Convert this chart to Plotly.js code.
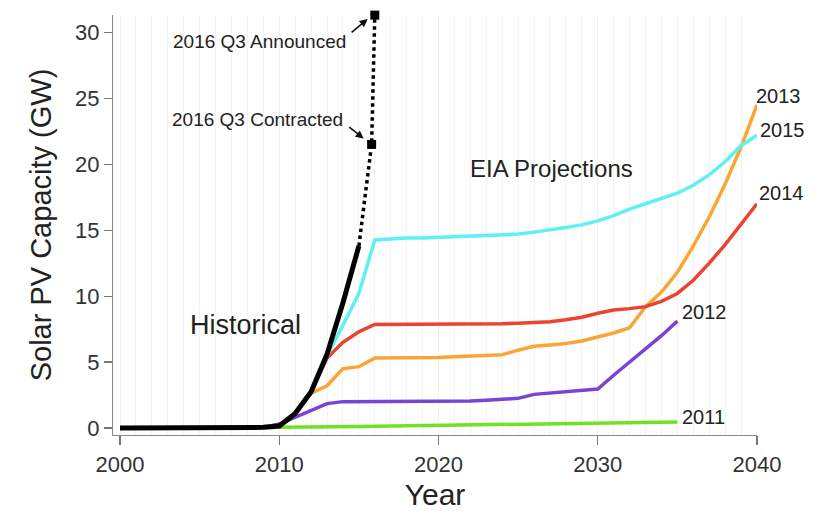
<!DOCTYPE html>
<html>
<head>
<meta charset="utf-8">
<script src="https://cdn.plot.ly/plotly-3.0.1.min.js"></script>
<style>html,body{margin:0;padding:0;background:#fff}#chart{width:813px;height:511px}</style>
</head>
<body>
<div id="chart"></div>
<script>
// Historical installed capacity
var histYears = [2000,2001,2002,2003,2004,2005,2006,2007,2008,2009,2010,2011,2012,2013,2014,2015];
var histVals  = [0,0,0,0,0,0,0,0,0.02,0.05,0.15,1.1,2.75,5.6,9.5,13.8];

// Pipeline (dotted) : last historical -> contracted -> announced
var pipeYears = [2015, 2015.8, 2016.0];
var pipeVals  = [13.8, 21.5, 31.3];
var pipeMarkYears = [2015.8, 2016.0];
var pipeMarkVals  = [21.5, 31.3];

// EIA projections
var yrs2015 = [2008,2009,2010,2011,2012,2013,2014,2015,2016,2017,2018,2019,2020,2021,2022,2023,2024,2025,2026,2027,2028,2029,2030,2031,2032,2033,2034,2035,2036,2037,2038,2039,2040];
var eia2015 = [0.02,0.05,0.15,1.1,2.75,5.5,7.8,10.2,14.25,14.35,14.4,14.4,14.45,14.45,14.5,14.55,14.6,14.7,14.85,15.0,15.2,15.4,15.7,16.1,16.6,17.0,17.4,17.8,18.4,19.2,20.2,21.4,22.2];

var yrs2014 = [2008,2009,2010,2011,2012,2013,2014,2015,2016,2017,2018,2019,2020,2021,2022,2023,2024,2025,2026,2027,2028,2029,2030,2031,2032,2033,2034,2035,2036,2037,2038,2039,2040];
var eia2014 = [0.02,0.05,0.15,1.1,2.7,5.3,6.5,7.3,7.85,7.85,7.85,7.85,7.85,7.85,7.85,7.88,7.9,7.95,8.0,8.05,8.2,8.4,8.7,8.95,9.05,9.2,9.6,10.2,11.2,12.5,13.9,15.4,17.0];

var yrs2013 = [2008,2009,2010,2011,2012,2013,2014,2015,2016,2017,2018,2019,2020,2021,2022,2023,2024,2025,2026,2027,2028,2029,2030,2031,2032,2033,2034,2035,2036,2037,2038,2039,2040];
var eia2013 = [0.02,0.05,0.15,1.1,2.65,3.2,4.5,4.65,5.3,5.3,5.3,5.3,5.35,5.4,5.45,5.5,5.55,5.9,6.2,6.3,6.4,6.6,6.9,7.2,7.6,9.2,10.3,11.8,13.8,16.0,18.5,21.3,24.5];

var yrs2012 = [2008,2009,2010,2011,2012,2013,2014,2015,2016,2017,2018,2019,2020,2021,2022,2023,2024,2025,2026,2027,2028,2029,2030,2031,2032,2033,2034,2035];
var eia2012 = [0.02,0.05,0.3,0.8,1.3,1.85,2.0,2.0,2.0,2.0,2.0,2.0,2.0,2.0,2.05,2.1,2.15,2.25,2.55,2.65,2.75,2.8,2.95,4.0,5.0,6.0,7.0,8.1];

var yrs2011 = [2009,2010,2015,2020,2025,2030,2035];
var eia2011 = [0.02,0.05,0.12,0.2,0.28,0.36,0.45];

var tickVals = [2000,2010,2020,2030,2040];
var yTickVals = [0,5,10,15,20,25,30];

var colCyan='#5FF0F2', colRed='#EC4330', colOrange='#FAA535', colPurple='#7844D8', colGreen='#6CE41F';

function line(x,y,c,w){return {x:x,y:y,type:'scatter',mode:'lines',line:{color:c,width:w},hoverinfo:'skip',showlegend:false};}

var traces = [
  line(yrs2011,eia2011,colGreen,3.5),
  line(yrs2012,eia2012,colPurple,3.5),
  line(yrs2013,eia2013,colOrange,3.5),
  line(yrs2014,eia2014,colRed,3.5),
  line(yrs2015,eia2015,colCyan,3.5),
  {x:pipeYears,y:pipeVals,type:'scatter',mode:'lines',line:{color:'#000',width:3.5,dash:'dot'},showlegend:false,hoverinfo:'skip'},
  {x:pipeMarkYears,y:pipeMarkVals,type:'scatter',mode:'markers',marker:{color:'#000',symbol:'square',size:9},showlegend:false,hoverinfo:'skip',cliponaxis:false},
  line(histYears,histVals,'#000',5)
];

var F = 'Liberation Sans, Arial, sans-serif';
function lab(t,x,y,size,xa,xs){return {text:t,x:x,y:y,xref:'x',yref:'y',showarrow:false,xanchor:xa||'left',yanchor:'middle',xshift:xs||0,font:{family:F,size:size,color:'#222'}};}
function arr(x,y,ax,ay){return {text:'',x:x,y:y,ax:ax,ay:ay,xref:'x',yref:'y',axref:'x',ayref:'y',showarrow:true,arrowhead:2,arrowsize:1,arrowwidth:1.6,arrowcolor:'#111',standoff:0,startstandoff:0};}

var layout = {
  width:813,height:511,
  margin:{l:113,r:56,t:15,b:76},
  paper_bgcolor:'#fff',plot_bgcolor:'#fff',
  font:{family:F,color:'#333'},
  xaxis:{range:[1999.56,2040],tickvals:tickVals,ticktext:tickVals.map(String),ticks:'outside',ticklen:9,tickwidth:1.2,tickcolor:'#777',
    showline:true,linecolor:'#888',linewidth:1.2,zeroline:false,
    showgrid:true,gridcolor:'#f1f1f1',gridwidth:1,
    minor:{dtick:1,tick0:2000,showgrid:true,gridcolor:'#f3f3f3',gridwidth:1,ticks:''},
    tickfont:{family:F,size:22,color:'#333'},
    title:{text:'Year',font:{family:F,size:30,color:'#222'},standoff:8}},
  yaxis:{range:[-0.53,31.31],tickvals:yTickVals,ticks:'outside',ticklen:8,tickwidth:1.2,tickcolor:'#777',
    showline:true,linecolor:'#888',linewidth:1.2,zeroline:false,showgrid:false,
    tickfont:{family:F,size:22,color:'#333'},
    title:{text:'Solar PV Capacity (GW)',font:{family:F,size:29,color:'#222'},standoff:14}},
  annotations:[
    lab('2013',2040,25.2,20,'left',-3),
    lab('2015',2040,22.6,20,'left',1),
    lab('2014',2040,17.8,20,'left',0),
    lab('2012',2035.15,8.8,20),
    lab('2011',2035.15,0.86,20),
    lab('EIA Projections',2027.1,19.7,24,'center'),
    lab('Historical',2007.85,7.8,27,'center'),
    lab('2016 Q3 Announced',2014.3,29.3,19,'right'),
    lab('2016 Q3 Contracted',2014.15,23.4,19,'right'),
    arr(2015.55,31.0,2014.45,29.9),
    arr(2015.3,21.95,2014.3,22.9)
  ]
};

Plotly.newPlot('chart',traces,layout,{staticPlot:true,displayModeBar:false});
</script>
</body>
</html>
